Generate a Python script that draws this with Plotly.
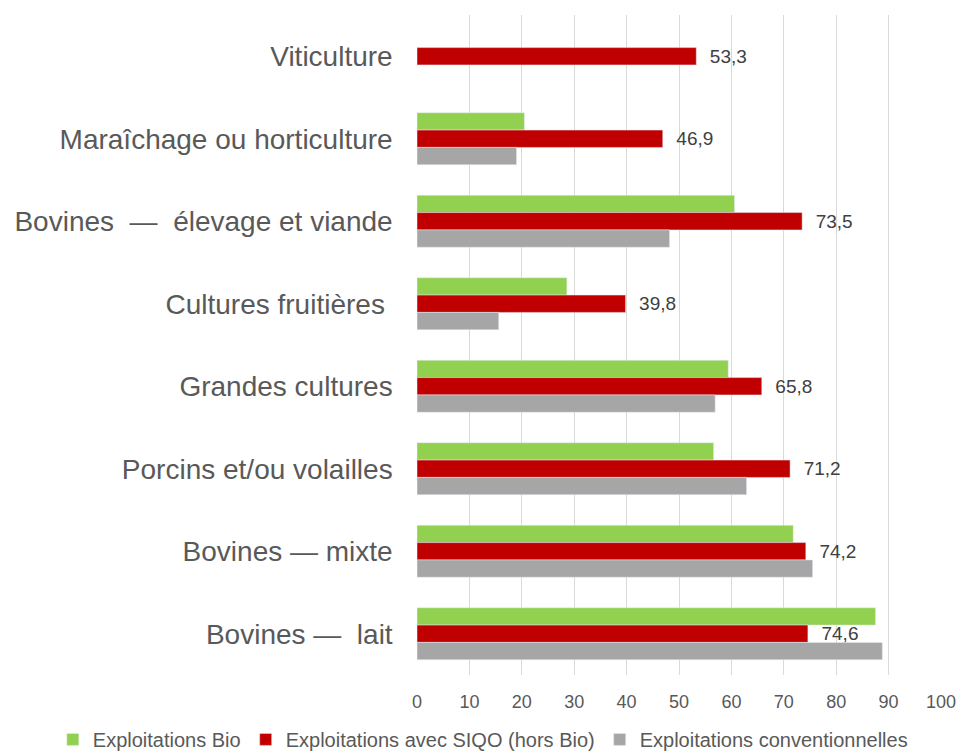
import plotly.graph_objs as go

categories = [
    "Viticulture",
    "Maraîchage ou horticulture",
    "Bovines  —  élevage et viande",
    "Cultures fruitières ",
    "Grandes cultures",
    "Porcins et/ou volailles",
    "Bovines — mixte",
    "Bovines —  lait",
]
bio = [None, 20.5, 60.6, 28.6, 59.4, 56.6, 71.8, 87.5]
siqo = [53.3, 46.9, 73.5, 39.8, 65.8, 71.2, 74.2, 74.6]
conventionnel = [None, 19.0, 48.2, 15.6, 56.9, 62.9, 75.5, 88.8]

text_color = "#595959"

fig = go.Figure()
fig.add_trace(go.Bar(name="Exploitations Bio", y=categories, x=bio,
                     orientation="h", marker_color="#92D050"))
fig.add_trace(go.Bar(name="Exploitations avec SIQO (hors Bio)", y=categories, x=siqo,
                     orientation="h", marker_color="#C00000",
                     texttemplate="  %{x:.1f}", textposition="outside",
                     constraintext="none",
                     textfont=dict(size=19, color="#404040"), cliponaxis=False))
fig.add_trace(go.Bar(name="Exploitations conventionnelles", y=categories, x=conventionnel,
                     orientation="h", marker_color="#A6A6A6"))

# the page body adds an 8px offset, so margins are shifted by that amount
fig.update_layout(
    barmode="group",
    bargap=0.37,
    bargroupgap=0,
    width=964, height=753,
    margin=dict(l=409, r=31, t=7, b=86, autoexpand=False),
    plot_bgcolor="white", paper_bgcolor="white",
    separators=", ",
    font=dict(family="Liberation Sans, Arial, sans-serif", color=text_color, size=18),
    legend=dict(orientation="h", x=-0.695, xanchor="left", y=-0.068, yanchor="top",
                font=dict(size=20, color=text_color), itemwidth=30,
                traceorder="normal"),
    xaxis=dict(range=[0, 100], dtick=10, showgrid=True, gridcolor="#D9D9D9",
               gridwidth=1, zeroline=False, showline=False, automargin=False,
               tickfont=dict(size=18, color=text_color), ticks="",
               ticklabelstandoff=14),
    yaxis=dict(autorange="reversed", tickfont=dict(size=28, color=text_color),
               showline=False, ticks="", automargin=False, ticksuffix="   "),
)

fig.write_html("out.html")
